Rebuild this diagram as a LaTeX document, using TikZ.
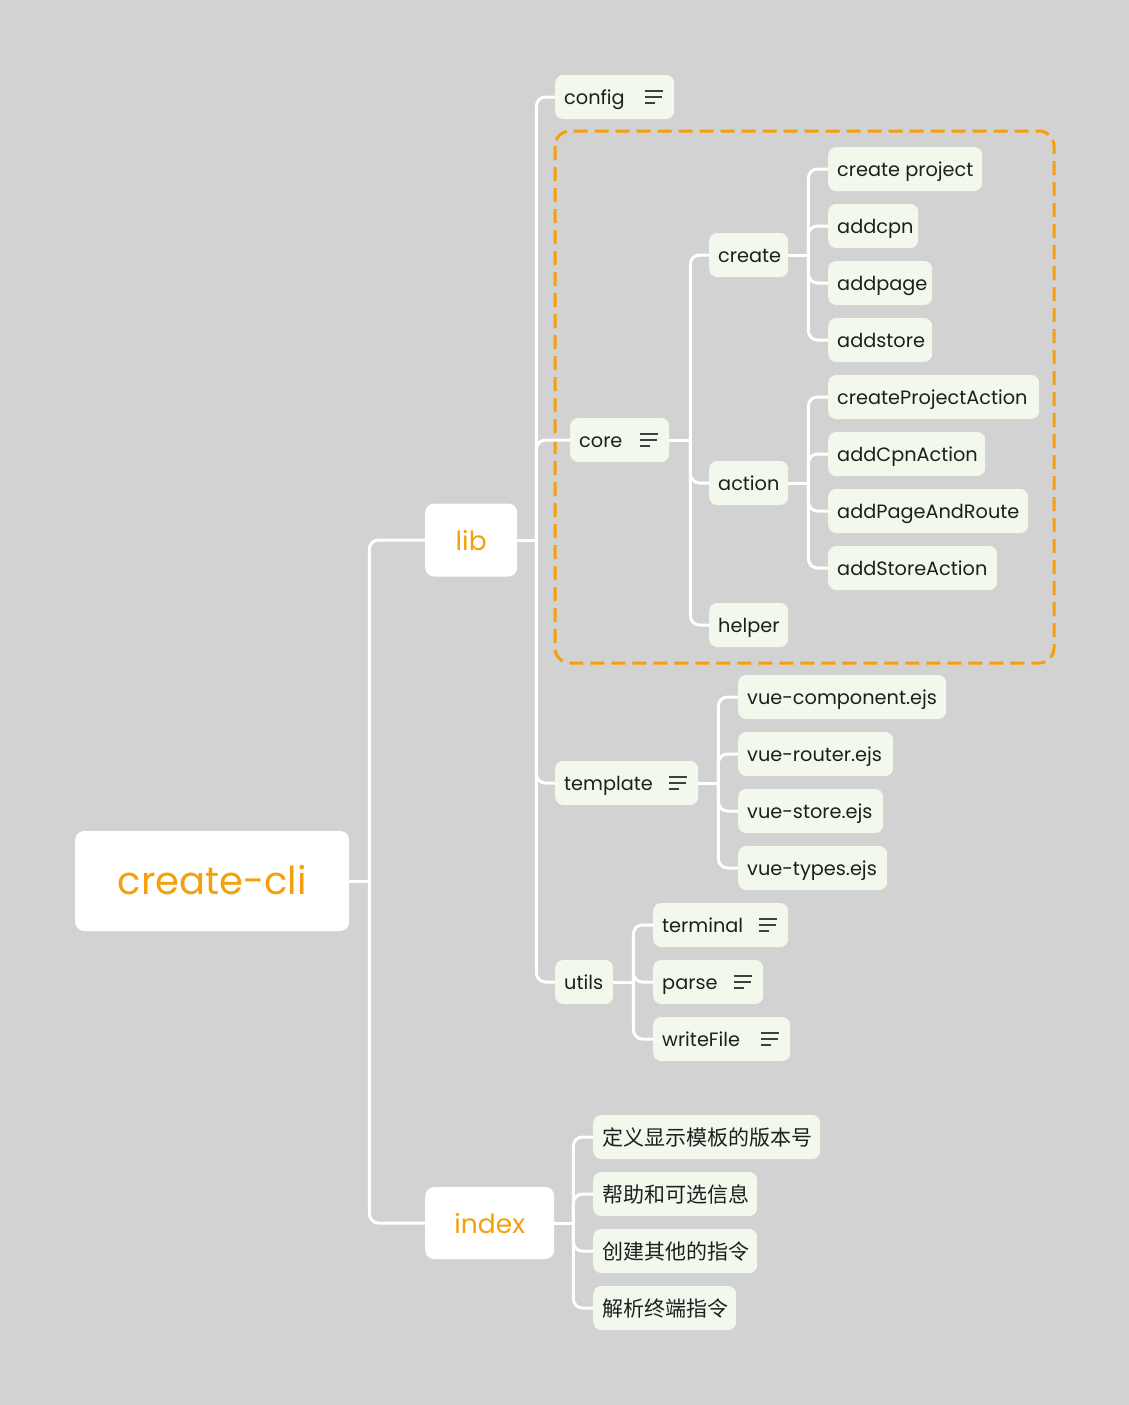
\documentclass[tikz,border=0pt]{standalone}
\usepackage{fontspec}
\setmainfont{Poppins}
\newfontfamily\cjkfont{Noto Sans CJK SC}
\definecolor{bgc}{HTML}{D2D2D2}
\definecolor{nodefill}{HTML}{F3F8ED}
\definecolor{orangec}{HTML}{F5A00A}
\definecolor{textc}{HTML}{1E1E1E}
\definecolor{iconc}{HTML}{404040}
\newcommand\lt[2]{\makebox[#1pt][l]{#2}}
\newcommand\noteicon[1]{%
  \draw[icon] ([xshift=-29pt,yshift=6pt]#1.east) -- ++(18pt,0pt)
              ([xshift=-29pt]#1.east) -- ++(17pt,0pt)
              ([xshift=-29pt,yshift=-6pt]#1.east) -- ++(10pt,0pt);}
\tikzset{
  box/.style={rectangle, rounded corners=8pt, fill=nodefill, minimum height=44pt,
    inner xsep=9pt, inner ysep=0pt, anchor=west, font=\fontsize{19.3}{22}\selectfont, text=textc,
    text height=17pt, text depth=3pt},
  cbox/.style={box, font=\fontsize{21}{24}\cjkfont, text height=19pt, text depth=3pt},
  mainbox/.style={rectangle, rounded corners=9pt, fill=white, text=orangec, inner sep=0pt, anchor=west},
  conn/.style={draw=white, line width=3pt, rounded corners=9pt},
  icon/.style={draw=iconc, line width=2pt},
  group/.style={draw=orangec, line width=3pt, dash pattern=on 14pt off 7pt, rounded corners=15pt},
}
\begin{document}
\begin{tikzpicture}[x=1pt,y=-1pt]
\useasboundingbox (0,0) rectangle (1129,1405);
\fill[bgc] (0,0) rectangle (1129,1405);

% dashed group
\draw[group] (555,131) rectangle (1054,663);

% main nodes
\node[mainbox, minimum width=274pt, minimum height=100pt, font=\fontsize{38.5}{46}\selectfont, text height=31pt, text depth=5pt] (root) at (75,881) {create-cli};
\node[mainbox, minimum width=92pt, minimum height=73pt, font=\fontsize{26.5}{32}\selectfont, text height=23pt, text depth=3pt] (lib) at (425,540) {lib};
\node[mainbox, minimum width=129pt, minimum height=72pt, font=\fontsize{26.5}{32}\selectfont, text height=23pt, text depth=3pt] (index) at (425,1223) {index};

% lib children
\node[box] (config) at (555,97) {\lt{101}{config}};
\node[box] (core) at (570,440) {\lt{81}{core}};
\node[box] (template) at (555,783) {\lt{125}{template}};
\node[box] (utils) at (555,982) {\lt{40}{utils}};

% core children
\node[box] (create) at (709,255) {\lt{61}{create}};
\node[box] (action) at (709,483) {\lt{61}{action}};
\node[box] (helper) at (709,625) {\lt{61}{helper}};

% create children
\node[box] (cp) at (828,169) {\lt{136}{create project}};
\node[box] (addcpn) at (828,226) {\lt{72}{addcpn}};
\node[box] (addpage) at (828,283) {\lt{86}{addpage}};
\node[box] (addstore) at (828,340) {\lt{86}{addstore}};

% action children
\node[box] (cpa) at (828,397) {\lt{193}{createProjectAction}};
\node[box] (aca) at (828,454) {\lt{139}{addCpnAction}};
\node[box] (apr) at (828,511) {\lt{182}{addPageAndRoute}};
\node[box] (asa) at (828,568) {\lt{151}{addStoreAction}};

% template children
\node[box] (vc) at (738,697) {\lt{190}{vue-component.ejs}};
\node[box] (vr) at (738,754) {\lt{137}{vue-router.ejs}};
\node[box] (vs) at (738,811) {\lt{127}{vue-store.ejs}};
\node[box] (vt) at (738,868) {\lt{131}{vue-types.ejs}};

% utils children
\node[box] (terminal) at (653,925) {\lt{117}{terminal}};
\node[box] (parse) at (653,982) {\lt{92}{parse}};
\node[box] (writefile) at (653,1039) {\lt{119}{writeFile}};

% index children
\node[cbox] (c1) at (593,1137) {\lt{209}{定义显示模板的版本号}};
\node[cbox] (c2) at (593,1194) {\lt{146}{帮助和可选信息}};
\node[cbox] (c3) at (593,1251) {\lt{146}{创建其他的指令}};
\node[cbox] (c4) at (593,1308) {\lt{125}{解析终端指令}};

% note icons
\noteicon{config}
\noteicon{core}
\noteicon{template}
\noteicon{terminal}
\noteicon{parse}
\noteicon{writefile}

% connectors
\draw[conn] (root.east) -- ++(20pt,0pt) coordinate (rb);
\draw[conn] (rb) |- (lib.west);
\draw[conn] (rb) |- (index.west);

\draw[conn] (lib.east) -- ++(19pt,0pt) coordinate (lb);
\foreach \c in {config,core,template,utils} \draw[conn] (lb) |- (\c.west);

\draw[conn] (core.east) -- ++(21pt,0pt) coordinate (cb);
\foreach \c in {create,action,helper} \draw[conn] (cb) |- (\c.west);

\draw[conn] (create.east) -- ++(20pt,0pt) coordinate (crb);
\foreach \c in {cp,addcpn,addpage,addstore} \draw[conn] (crb) |- (\c.west);

\draw[conn] (action.east) -- ++(20pt,0pt) coordinate (ab);
\foreach \c in {cpa,aca,apr,asa} \draw[conn] (ab) |- (\c.west);

\draw[conn] (template.east) -- ++(20pt,0pt) coordinate (tb);
\foreach \c in {vc,vr,vs,vt} \draw[conn] (tb) |- (\c.west);

\draw[conn] (utils.east) -- ++(20pt,0pt) coordinate (ub);
\foreach \c in {terminal,parse,writefile} \draw[conn] (ub) |- (\c.west);

\draw[conn] (index.east) -- ++(19pt,0pt) coordinate (ib);
\foreach \c in {c1,c2,c3,c4} \draw[conn] (ib) |- (\c.west);
\end{tikzpicture}
\end{document}
